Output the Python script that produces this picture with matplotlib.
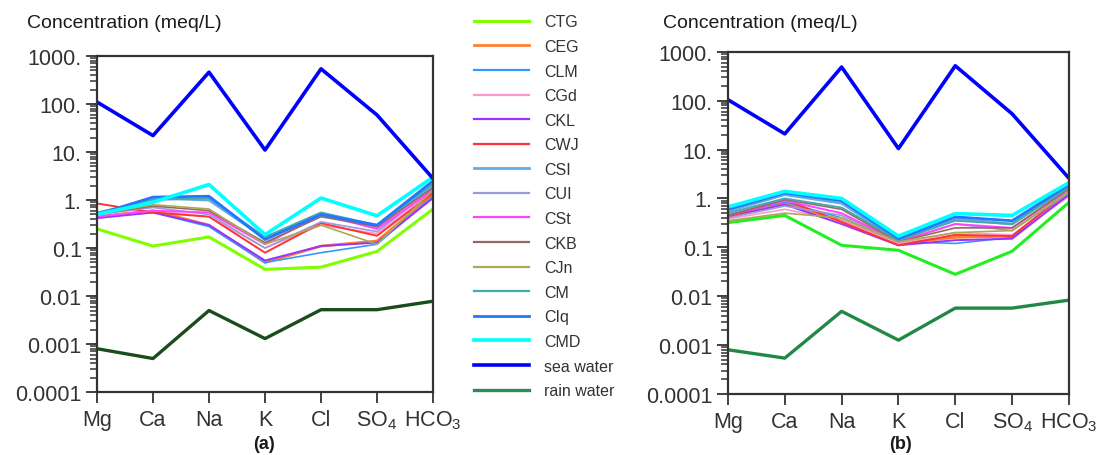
import matplotlib
matplotlib.use("Agg")
import matplotlib.pyplot as plt
from matplotlib.lines import Line2D
from matplotlib.ticker import LogLocator, NullFormatter

plt.rcParams['font.family'] = ['Liberation Sans', 'DejaVu Sans']
plt.rcParams['mathtext.fontset'] = 'custom'
plt.rcParams['mathtext.rm'] = 'Liberation Sans'
plt.rcParams['mathtext.default'] = 'regular'

ions = ['Mg', 'Ca', 'Na', 'K', 'Cl', 'SO$_4$', 'HCO$_3$']
ytick_vals = [1e-4, 1e-3, 1e-2, 1e-1, 1, 10, 100, 1000]
ytick_labels = ['0.0001', '0.001', '0.01', '0.1', '1.', '10.', '100.', '1000.']

names = ['CTG', 'CEG', 'CLM', 'CGd', 'CKL', 'CWJ', 'CSI', 'CUI', 'CSt',
         'CKB', 'CJn', 'CM', 'CIq', 'CMD', 'sea water', 'rain water']

# panel (a)
data_a = {
    'CTG':   [0.25, 0.11, 0.17, 0.036, 0.04, 0.085, 0.65],
    'CEG':   [0.45, 0.6, 0.3, 0.05, 0.11, 0.14, 1.3],
    'CLM':   [0.45, 0.55, 0.28, 0.05, 0.08, 0.12, 1.2],
    'CGd':   [0.45, 0.6, 0.45, 0.1, 0.3, 0.2, 1.5],
    'CKL':   [0.42, 0.55, 0.3, 0.055, 0.11, 0.13, 1.1],
    'CWJ':   [0.85, 0.55, 0.45, 0.08, 0.33, 0.18, 1.4],
    'CSI':   [0.5, 1.1, 1.0, 0.16, 0.5, 0.28, 2.0],
    'CUI':   [0.5, 0.7, 0.5, 0.1, 0.35, 0.22, 1.7],
    'CSt':   [0.45, 0.6, 0.55, 0.12, 0.5, 0.25, 1.6],
    'CKB':   [0.5, 0.75, 0.6, 0.13, 0.45, 0.28, 1.8],
    'CJn':   [0.5, 0.8, 0.65, 0.12, 0.3, 0.12, 1.6],
    'CM':    [0.55, 1.0, 1.1, 0.17, 0.55, 0.3, 2.2],
    'CIq':   [0.5, 1.15, 1.2, 0.15, 0.5, 0.3, 2.5],
    'CMD':   [0.5, 0.9, 2.1, 0.19, 1.1, 0.47, 3.0],
    'sea water':  [110, 22, 460, 11, 540, 59, 2.8],
    'rain water': [0.0008, 0.0005, 0.005, 0.0013, 0.0052, 0.0052, 0.0078],
}

# panel (b)
data_b = {
    'CTG':   [0.32, 0.45, 0.11, 0.087, 0.028, 0.083, 0.83],
    'CEG':   [0.42, 0.8, 0.35, 0.12, 0.16, 0.17, 1.3],
    'CLM':   [0.45, 0.85, 0.4, 0.13, 0.12, 0.16, 1.2],
    'CGd':   [0.38, 0.6, 0.35, 0.12, 0.2, 0.18, 1.1],
    'CKL':   [0.42, 0.75, 0.3, 0.11, 0.14, 0.15, 1.2],
    'CWJ':   [0.42, 0.95, 0.33, 0.11, 0.18, 0.17, 1.4],
    'CSI':   [0.55, 1.2, 0.8, 0.14, 0.38, 0.3, 1.8],
    'CUI':   [0.4, 0.7, 0.45, 0.13, 0.3, 0.22, 1.3],
    'CSt':   [0.45, 0.9, 0.5, 0.13, 0.3, 0.25, 1.5],
    'CKB':   [0.45, 0.95, 0.6, 0.13, 0.25, 0.25, 1.6],
    'CJn':   [0.35, 0.5, 0.4, 0.13, 0.2, 0.22, 1.4],
    'CM':    [0.5, 1.0, 0.65, 0.14, 0.35, 0.3, 1.7],
    'CIq':   [0.6, 1.3, 0.9, 0.15, 0.42, 0.35, 1.9],
    'CMD':   [0.67, 1.4, 1.0, 0.17, 0.49, 0.45, 2.1],
    'sea water':  [105, 21, 490, 10.5, 520, 54, 2.6],
    'rain water': [0.0008, 0.00054, 0.0049, 0.00126, 0.0057, 0.0057, 0.0083],
}

colors = {
    'CTG': '#80ff00', 'CEG': '#ff8030', 'CLM': '#3399ff', 'CGd': '#ff99cc',
    'CKL': '#9933ff', 'CWJ': '#ff3333', 'CSI': '#66aadd', 'CUI': '#9999dd',
    'CSt': '#ff44ff', 'CKB': '#996666', 'CJn': '#aaaa55', 'CM': '#44aaaa',
    'CIq': '#2277ff', 'CMD': '#00ffff', 'sea water': '#0000ff',
    'rain water': '#2e8b57',
}
widths = {
    'CTG': 2.2, 'CEG': 2.0, 'CLM': 1.2, 'CGd': 1.2, 'CKL': 1.4, 'CWJ': 1.4,
    'CSI': 2.0, 'CUI': 1.2, 'CSt': 1.4, 'CKB': 1.2, 'CJn': 1.2, 'CM': 1.4,
    'CIq': 2.0, 'CMD': 2.6, 'sea water': 2.6, 'rain water': 2.4,
}

fig = plt.figure(figsize=(10.96, 4.56), dpi=100)
ax_a = fig.add_axes([0.0885, 0.138, 0.3066, 0.737])
ax_b = fig.add_axes([0.6642, 0.134, 0.3111, 0.750])


def draw(ax, data, overrides):
    x = range(len(ions))
    for name in names:
        c = overrides.get(name, colors[name])
        ax.plot(x, data[name], color=c, lw=widths[name],
                solid_joinstyle='round')
    ax.set_yscale('log')
    ax.set_ylim(1e-4, 1000)
    ax.set_xlim(0, len(ions) - 1)
    ax.set_yticks(ytick_vals)
    ax.set_yticklabels(ytick_labels)
    ax.yaxis.set_minor_locator(LogLocator(base=10, subs=range(2, 10), numticks=20))
    ax.yaxis.set_minor_formatter(NullFormatter())
    ax.set_xticks(list(x))
    ax.set_xticklabels(ions)
    ax.tick_params(axis='both', which='major', direction='out', length=8,
                   width=1.3, color='#333333', labelsize=15.5,
                   labelcolor='#333333', pad=3)
    ax.tick_params(axis='x', which='major', pad=4)
    ax.tick_params(axis='y', which='minor', direction='out', length=5,
                   width=1.1, color='#333333')
    for s in ax.spines.values():
        s.set_color('#333333')
        s.set_linewidth(1.6)


draw(ax_a, data_a, {'rain water': '#1b4d1b'})
draw(ax_b, data_b, {'CTG': '#22ee22', 'rain water': '#228845'})

for xt in (27 / 1096, 663 / 1096):
    fig.text(xt, 1 - 23 / 456, 'Concentration (meq/L)', fontsize=14,
             color='#1a1a1a', va='center', ha='left')

fig.text(264 / 1096, 1 - 445 / 456, '(a)', fontsize=13, fontweight='bold',
         ha='center', va='center', color='#1a1a1a')
fig.text(900 / 1096, 1 - 445 / 456, '(b)', fontsize=13, fontweight='bold',
         ha='center', va='center', color='#1a1a1a')

handles = [Line2D([], [], color=colors[n], lw=max(widths[n], 1.6)) for n in names]
fig.legend(handles, names, loc='upper left', bbox_to_anchor=(468 / 1096, 1 - 9 / 456),
           frameon=False, fontsize=11.5, labelspacing=0.6, handlelength=3.4,
           handletextpad=0.95, borderaxespad=0, labelcolor='#333333')

fig.savefig('out.png', dpi=100)
